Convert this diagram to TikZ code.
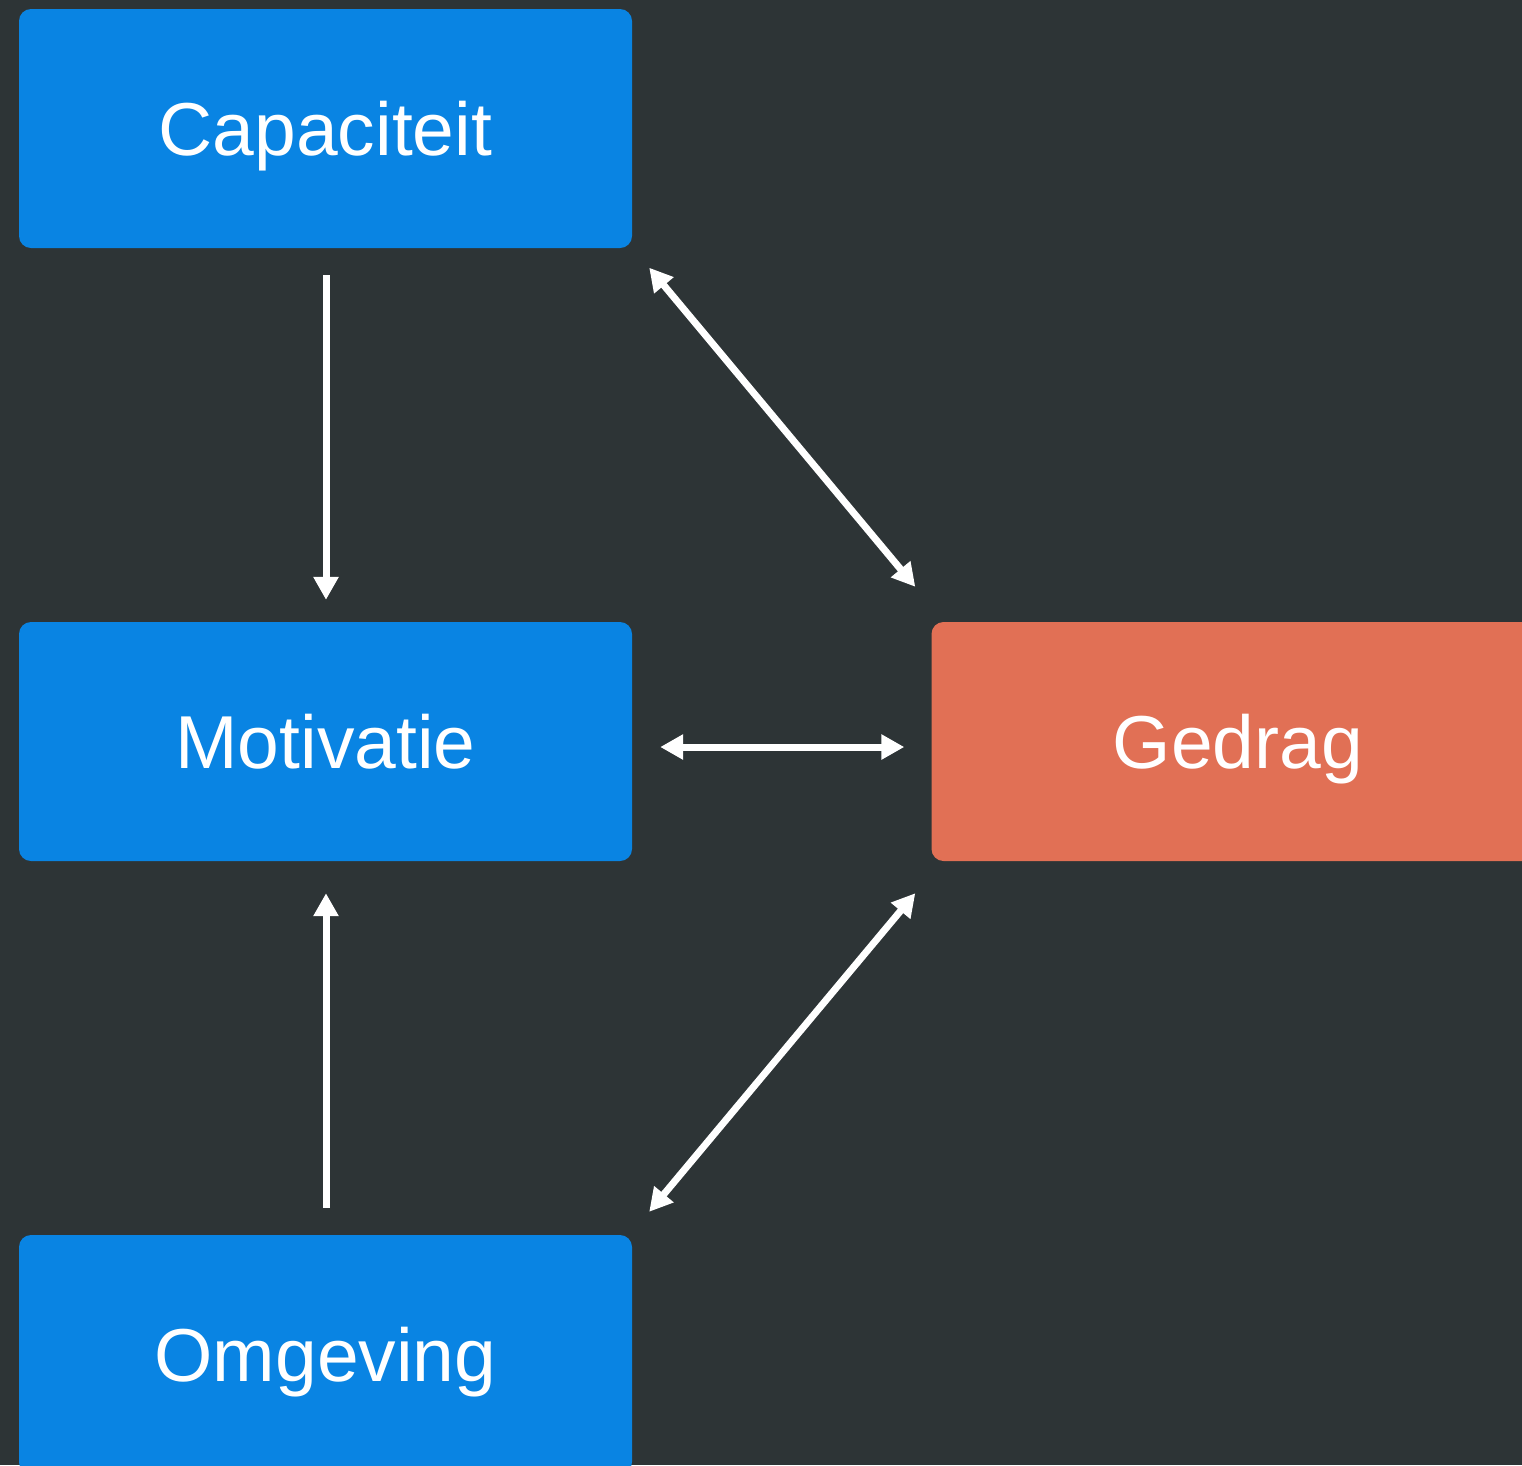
\documentclass[tikz,border=0pt]{standalone}
\usepackage{fontspec}
\setmainfont{Liberation Sans}
\usetikzlibrary{arrows.meta}
\definecolor{bgc}{HTML}{2D3436}
\definecolor{blu}{HTML}{0984E3}
\definecolor{ora}{HTML}{E17055}
\tikzset{
  box/.style={rectangle, rounded corners=12pt, minimum width=613pt, minimum height=239pt,
    inner sep=0pt, text=white, font=\fontsize{75}{90}\selectfont,
    text height=53.7pt, text depth=0pt, draw=none},
  bluebox/.style={box, fill=blu},
  orabox/.style={box, fill=ora},
  arr/.style={draw=white, line width=7pt, -{Triangle[length=23pt, width=24pt]}},
  darr/.style={draw=white, line width=7pt, {Triangle[length=23pt, width=24pt]}-{Triangle[length=23pt, width=24pt]}}
}
\begin{document}
\begin{tikzpicture}[x=1pt, y=-1pt]
\fill[bgc] (0,0) rectangle (1522,1465);
\useasboundingbox (0,0) rectangle (1522,1465);
\clip (0,0) rectangle (1522,1465);
\node[bluebox] (cap) at (325.5,128.5) {Capaciteit};
\node[bluebox] (mot) at (325.5,741.5) {Motivatie};
\node[bluebox] (omg) at (325.5,1354.5) {Omgeving};
\node[orabox]  (ged) at (1238,741.5) {Gedrag};
\draw[arr] ([shift={(0.5,27)}]cap.south) -- ([shift={(0.5,-22)}]mot.north);
\draw[arr] ([shift={(0.5,-27)}]omg.north) -- ([shift={(0.5,32)}]mot.south);
\draw[darr] ([shift={(28,5.5)}]mot.east) -- ([shift={(-27,5.5)}]ged.west);
\draw[darr] ([shift={(17,19.5)}]cap.south east) -- ([shift={(-16,-35)}]ged.north west);
\draw[darr] ([shift={(17,-23)}]omg.north west -| omg.north east) -- ([shift={(-16,32)}]ged.south west);
\end{tikzpicture}
\end{document}
